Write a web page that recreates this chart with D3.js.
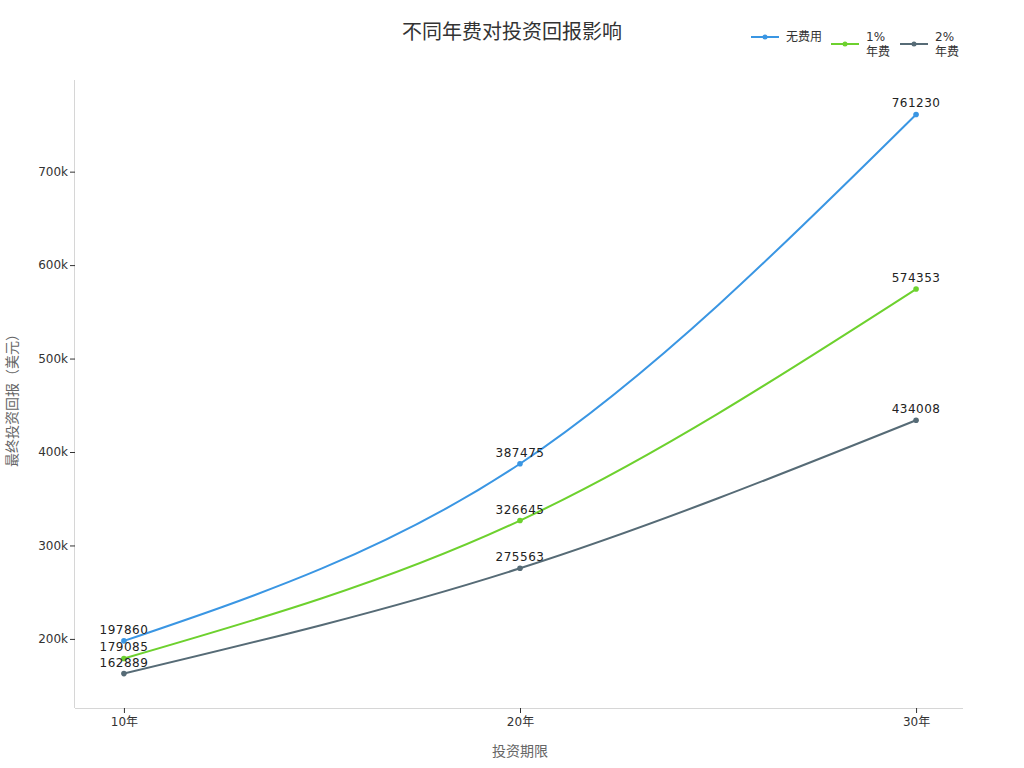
<!DOCTYPE html>
<html><head><meta charset="utf-8">
<script src="https://cdn.jsdelivr.net/npm/d3@7/dist/d3.min.js"></script>
<style>
body{margin:0;background:#fff;font-family:"DejaVu Sans","Noto Sans CJK SC",sans-serif;}
svg text{font-family:"DejaVu Sans","Noto Sans CJK SC",sans-serif;}
</style></head>
<body><svg id="c" width="1024" height="768"></svg>
<script>
const categories = ["10年","20年","30年"];
const seriesNames = ["无费用","1%\n年费","2%\n年费"];
const noFee = [197860, 387475, 761230];
const fee1 = [179085, 326645, 574353];
const fee2 = [162889, 275563, 434008];
const yTicks = [200000,300000,400000,500000,600000,700000];
const colors = ["#3a96e3","#6dd12e","#566b76"];
const series = [noFee, fee1, fee2];

const svg = d3.select("#c");
const pL=75,pR=963,pT=80,pB=708;
const x = d3.scalePoint().domain(categories).range([pL+1,pR+1]).padding(0.121);
const y = d3.scaleLinear().domain([125000,797000]).range([pB+1,pT+1]);

svg.append("text").attr("x",512).attr("y",39).attr("text-anchor","middle")
  .attr("font-size",20).attr("fill","#333").text("不同年费对投资回报影响");

const gx = svg.append("g").attr("transform",`translate(0,${pB})`)
  .call(d3.axisBottom(x).tickSize(5).tickPadding(4));
gx.select(".domain").attr("stroke","#d6d6d6").attr("d",`M${pL},0.5H${pR}`);
gx.selectAll(".tick line").attr("stroke","#333");
gx.selectAll(".tick text").attr("font-size",12).attr("fill","#333");

const gy = svg.append("g").attr("transform",`translate(${pL},0)`)
  .call(d3.axisLeft(y).tickValues(yTicks).tickFormat(d=>(d/1000)+"k").tickSize(5).tickPadding(2));
gy.select(".domain").attr("stroke","#d6d6d6").attr("d",`M-0.5,${pT}V${pB}`);
gy.selectAll(".tick line").attr("stroke","#333");
gy.selectAll(".tick text").attr("font-size",12).attr("fill","#333");

svg.append("text").attr("x",520).attr("y",756).attr("text-anchor","middle")
  .attr("font-size",14).attr("fill","#666").text("投资期限");
svg.append("text").attr("transform","translate(17,397) rotate(-90)").attr("text-anchor","middle")
  .attr("font-size",14).attr("fill","#666").text("最终投资回报（美元）");

const line = d3.line().x((d,i)=>x(categories[i])).y(d=>y(d)).curve(d3.curveMonotoneX);
series.forEach((s,k)=>{
  svg.append("path").attr("d",line(s)).attr("fill","none").attr("stroke",colors[k]).attr("stroke-width",2);
  svg.selectAll(null).data(s).enter().append("circle")
    .attr("cx",(d,i)=>x(categories[i])).attr("cy",d=>y(d)).attr("r",2.8).attr("fill",colors[k]);
  svg.selectAll(null).data(s).enter().append("text")
    .attr("x",(d,i)=>x(categories[i])).attr("y",d=>y(d)-7).attr("text-anchor","middle")
    .attr("font-size",12).attr("fill","#222").attr("letter-spacing",0.5).text(d=>d);
});

// legend
const legX=[751,831,900], legY=[37,44,44];
seriesNames.forEach((n,k)=>{
  const g=svg.append("g");
  g.append("line").attr("x1",legX[k]).attr("x2",legX[k]+28).attr("y1",legY[k]).attr("y2",legY[k])
    .attr("stroke",colors[k]).attr("stroke-width",2);
  g.append("circle").attr("cx",legX[k]+14).attr("cy",legY[k]).attr("r",2.5).attr("fill",colors[k]);
  const lines=n.split("\n");
  lines.forEach((t,j)=>{
    g.append("text").attr("x",legX[k]+35).attr("y",(lines.length===1?legY[k]+4:legY[k]-3+j*15))
      .attr("font-size",12).attr("fill","#333").text(t);
  });
});
</script></body></html>
